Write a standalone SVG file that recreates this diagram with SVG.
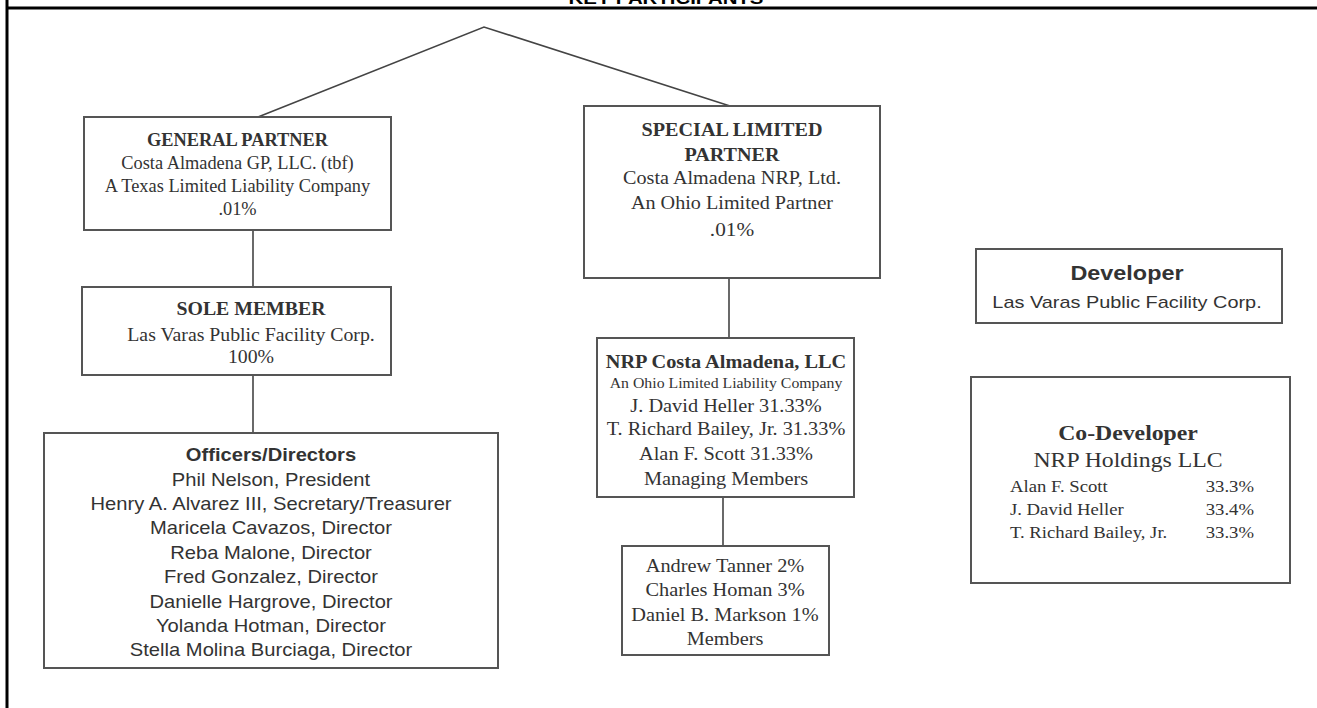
<svg xmlns="http://www.w3.org/2000/svg" width="1317" height="708" viewBox="0 0 1317 708">
<style>
.box{fill:#fff;stroke:#555;stroke-width:2}
.conn{stroke:#444;stroke-width:1.6;fill:none}
.frame{stroke:#000;stroke-width:3;fill:none}
.tr{font-family:"Liberation Serif","Times New Roman",serif;font-size:18px;fill:#333;text-anchor:middle}
.trb{font-family:"Liberation Serif","Times New Roman",serif;font-size:18px;fill:#333;font-weight:bold;text-anchor:middle}
.ar{font-family:"Liberation Sans",Arial,sans-serif;font-size:18px;fill:#333;text-anchor:middle}
.arb{font-family:"Liberation Sans",Arial,sans-serif;font-size:18px;fill:#333;font-weight:bold;text-anchor:middle}
.title{font-family:"Liberation Sans",Arial,sans-serif;font-size:17px;font-weight:bold;fill:#000;text-anchor:middle}
</style>
<rect x="0" y="0" width="1317" height="708" fill="#fff"/>
<g id="frame">
<line class="frame" x1="7" y1="0" x2="7" y2="708"/>
<line class="frame" x1="7" y1="8" x2="1317" y2="8"/>
<text class="title" transform="translate(666,4) scale(1.2,1)" x="0" y="0">KEY PARTICIPANTS</text>
</g>
<g id="connectors">
<polyline class="conn" points="258,117 484,27 730,106"/>
<line class="conn" x1="253" y1="230" x2="253" y2="287"/>
<line class="conn" x1="253" y1="375" x2="253" y2="433"/>
<line class="conn" x1="729" y1="278" x2="729" y2="338"/>
<line class="conn" x1="723" y1="497" x2="723" y2="546"/>
</g>
<g id="general-partner">
<rect class="box" x="84" y="117" width="307" height="113"/>
<g transform="translate(237.5,0) scale(1.02,1)">
<text class="trb" x="0" y="146">GENERAL PARTNER</text>
<text class="tr" x="0" y="169">Costa Almadena GP, LLC. (tbf)</text>
<text class="tr" x="0" y="192">A Texas Limited Liability Company</text>
<text class="tr" x="0" y="215">.01%</text>
</g>
</g>
<g id="sole-member">
<rect class="box" x="82" y="287" width="309" height="88"/>
<g transform="translate(251,0) scale(1.1,1)">
<text class="trb" x="0" y="315">SOLE MEMBER</text>
<text class="tr" x="0" y="341">Las Varas Public Facility Corp.</text>
<text class="tr" x="0" y="363">100%</text>
</g>
</g>
<g id="officers">
<rect class="box" x="44" y="433" width="454" height="235"/>
<g transform="translate(271,0) scale(1.12,1)">
<text class="arb" x="0" y="461">Officers/Directors</text>
<text class="ar" x="0" y="486">Phil Nelson, President</text>
<text class="ar" x="0" y="510">Henry A. Alvarez III, Secretary/Treasurer</text>
<text class="ar" x="0" y="534">Maricela Cavazos, Director</text>
<text class="ar" x="0" y="559">Reba Malone, Director</text>
<text class="ar" x="0" y="583">Fred Gonzalez, Director</text>
<text class="ar" x="0" y="608">Danielle Hargrove, Director</text>
<text class="ar" x="0" y="632">Yolanda Hotman, Director</text>
<text class="ar" x="0" y="656">Stella Molina Burciaga, Director</text>
</g>
</g>
<g id="special-limited-partner">
<rect class="box" x="584" y="106" width="296" height="172"/>
<g transform="translate(732,0) scale(1.12,1)">
<text class="trb" x="0" y="136">SPECIAL LIMITED</text>
<text class="trb" x="0" y="161">PARTNER</text>
<text class="tr" x="0" y="184">Costa Almadena NRP, Ltd.</text>
<text class="tr" x="0" y="209">An Ohio Limited Partner</text>
<text class="tr" x="0" y="236" style="font-size:19px">.01%</text>
</g>
</g>
<g id="nrp-costa-almadena">
<rect class="box" x="597" y="338" width="257" height="159"/>
<g transform="translate(726,0) scale(1.13,1)">
<text class="trb" x="0" y="368">NRP Costa Almadena, LLC</text>
<text class="tr" x="0" y="388" style="font-size:14px">An Ohio Limited Liability Company</text>
<text class="tr" x="0" y="412">J. David Heller 31.33%</text>
<text class="tr" x="0" y="435">T. Richard Bailey, Jr. 31.33%</text>
<text class="tr" x="0" y="460">Alan F. Scott 31.33%</text>
<text class="tr" x="0" y="485">Managing Members</text>
</g>
</g>
<g id="members">
<rect class="box" x="622" y="546" width="207" height="109"/>
<g transform="translate(725,0) scale(1.13,1)">
<text class="tr" x="0" y="572">Andrew Tanner 2%</text>
<text class="tr" x="0" y="596">Charles Homan 3%</text>
<text class="tr" x="0" y="621">Daniel B. Markson 1%</text>
<text class="tr" x="0" y="645">Members</text>
</g>
</g>
<g id="developer">
<rect class="box" x="976" y="249" width="306" height="74"/>
<g transform="translate(1127,0) scale(1.17,1)">
<text class="arb" x="0" y="280" style="font-size:20px">Developer</text>
<text class="ar" x="0" y="308" style="font-size:17px">Las Varas Public Facility Corp.</text>
</g>
</g>
<g id="co-developer">
<rect class="box" x="971" y="377" width="319" height="206"/>
<g transform="translate(1128,0) scale(1.08,1)">
<text class="trb" x="0" y="440" style="font-size:22px">Co-Developer</text>
<text class="tr" x="0" y="467" style="font-size:22px">NRP Holdings LLC</text>
</g>
<g transform="translate(1010,0) scale(1.1,1)" class="tr" style="text-anchor:start">
<text x="0" y="492" style="font-family:'Liberation Serif',serif;font-size:17px;fill:#333">Alan F. Scott</text>
<text x="0" y="515" style="font-family:'Liberation Serif',serif;font-size:17px;fill:#333">J. David Heller</text>
<text x="0" y="538" style="font-family:'Liberation Serif',serif;font-size:17px;fill:#333">T. Richard Bailey, Jr.</text>
</g>
<g transform="translate(1254,0) scale(1.1,1)">
<text x="0" y="492" style="font-family:'Liberation Serif',serif;font-size:17px;fill:#333;text-anchor:end">33.3%</text>
<text x="0" y="515" style="font-family:'Liberation Serif',serif;font-size:17px;fill:#333;text-anchor:end">33.4%</text>
<text x="0" y="538" style="font-family:'Liberation Serif',serif;font-size:17px;fill:#333;text-anchor:end">33.3%</text>
</g>
</g>
</svg>
